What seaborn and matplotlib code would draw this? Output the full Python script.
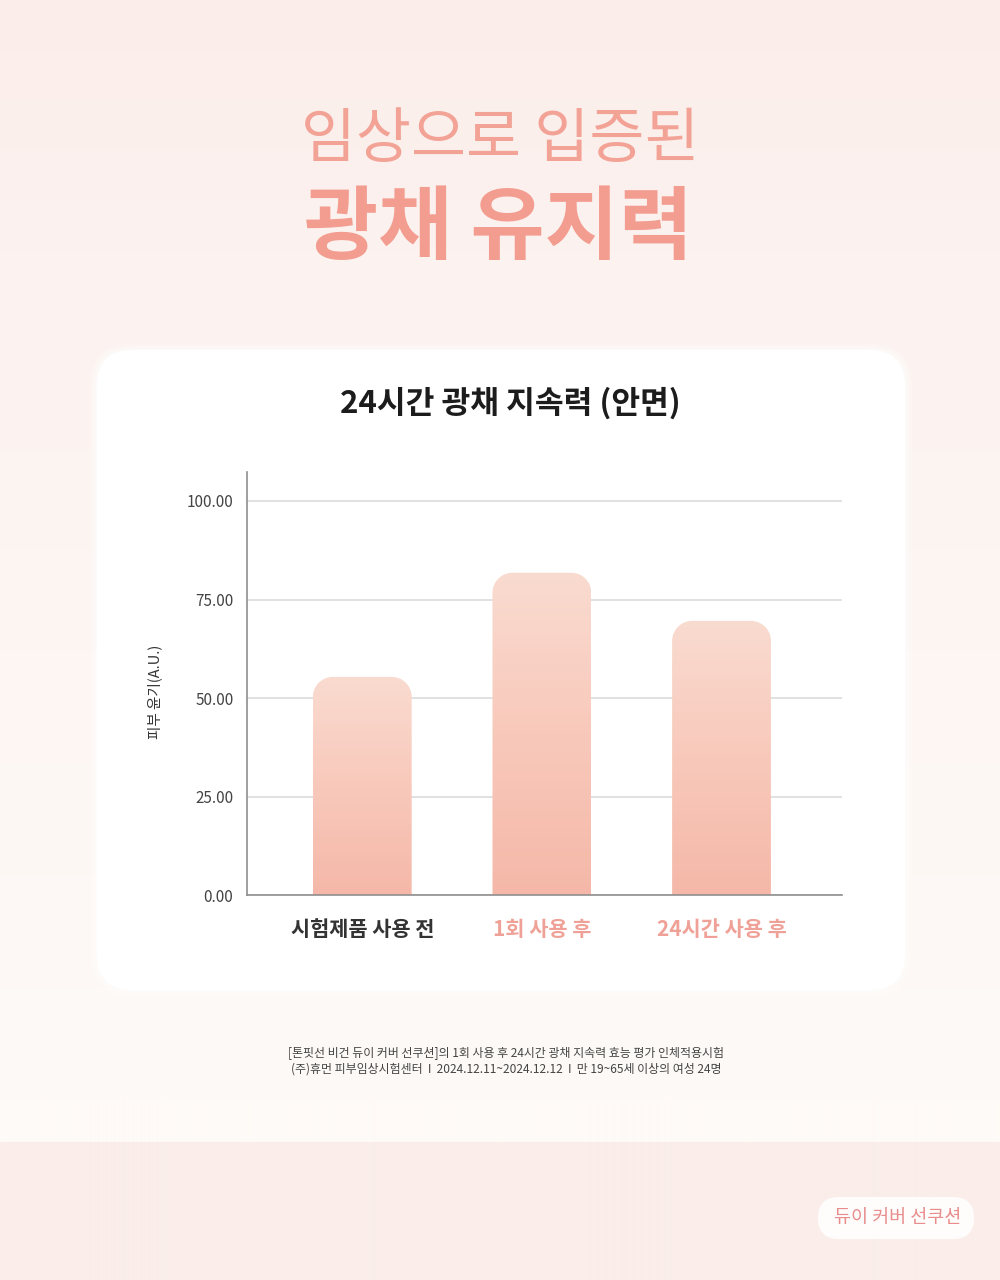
import numpy as np
import pandas as pd
import matplotlib
matplotlib.use('Agg')
import matplotlib.pyplot as plt
import seaborn as sns
from matplotlib.patches import FancyBboxPatch, PathPatch
from matplotlib.path import Path
from matplotlib.colors import LinearSegmentedColormap

# ---------------- data ----------------
categories = ['시험제품 사용 전', '1회 사용 후', '24시간 사용 후']
values = [55.4, 81.8, 69.6]
y_ticks = [0, 25, 50, 75, 100]
y_tick_labels = ['0.00', '25.00', '50.00', '75.00', '100.00']
label_colors = ['#333333', '#f0a197', '#f0a197']
title_line1 = '임상으로 입증된'
title_line2 = '광채 유지력'
chart_title = '24시간 광채 지속력 (안면)'
y_label = '피부 윤기(A.U.)'
footnotes = ['[톤핏선 비건 듀이 커버 선쿠션]의 1회 사용 후 24시간 광채 지속력 효능 평가 인체적용시험',
             '(주)휴먼 피부임상시험센터  I  2024.12.11~2024.12.12  I  만 19~65세 이상의 여성 24명']
badge_text = '듀이 커버 선쿠션'

# ---------------- style ----------------
sns.set_theme(style='white')
plt.rcParams['font.family'] = ['Noto Sans CJK KR', 'DejaVu Sans']

W, H = 1000, 1280
fig = plt.figure(figsize=(10, 12.8), dpi=100)

# background layer in pixel coordinates
bg = fig.add_axes([0, 0, 1, 1], zorder=0)
bg.set_xlim(0, W)
bg.set_ylim(H, 0)
bg.axis('off')

rows = np.arange(H)
stop_y = [0, 250, 650, 1100, 1141, 1142, 1280]
stop_c = np.array([[251, 237, 234], [252, 242, 239], [253, 246, 243],
                   [254, 250, 247], [254, 250, 247], [250, 237, 234], [250, 238, 235]]) / 255.0
img = np.stack([np.interp(rows, stop_y, stop_c[:, i]) for i in range(3)], axis=1)
img = np.repeat(img[:, None, :], 4, axis=1)
bg.imshow(img, extent=(0, W, H, 0), aspect='auto', interpolation='bilinear', zorder=0)

# card with soft glow
for i, a in enumerate([0.2, 0.3, 0.45]):
    g = 7 - i * 3
    bg.add_patch(FancyBboxPatch((97 - g, 350 - g), 808 + 2 * g, 640 + 2 * g,
                                boxstyle=f'round,pad=0,rounding_size={36 + g}',
                                fc='white', ec='none', alpha=a, zorder=1))
bg.add_patch(FancyBboxPatch((97, 350), 808, 640, boxstyle='round,pad=0,rounding_size=36',
                            fc='white', ec='none', zorder=1))

# badge
bg.add_patch(FancyBboxPatch((818, 1197), 156, 42, boxstyle='round,pad=0,rounding_size=21',
                            fc='white', ec='none', alpha=0.9, zorder=1))
bg.text(898, 1218, badge_text, ha='center', va='center', fontsize=13.3, color='#e88c8c', zorder=2)

# titles
bg.text(500, 141, title_line1, ha='center', va='center', fontsize=43, fontweight='medium',
        color='#f3a296', zorder=2)
bg.text(498, 229, title_line2, ha='center', va='center', fontsize=58, fontweight='black',
        color='#f39d90', zorder=2)
bg.text(510, 403, chart_title, ha='center', va='center', fontsize=22.5, fontweight='bold',
        color='#1c1c1c', zorder=2)
bg.text(155, 692, y_label, ha='center', va='center', rotation=90, fontsize=10.5,
        color='#333333', zorder=2)
bg.text(506, 1053, footnotes[0], ha='center', va='center', fontsize=8.6, color='#444444', zorder=2)
bg.text(506, 1069, footnotes[1], ha='center', va='center', fontsize=8.6, color='#444444', zorder=2)

# ---------------- chart ----------------
ax = fig.add_axes([0.2473, 0.3005, 0.5944, 0.3309], zorder=2)
ax.patch.set_alpha(0)
df = pd.DataFrame({'stage': categories, 'value': values})
sns.barplot(data=df, x='stage', y='value', width=0.55, color='#f7c4b6', errorbar=None, ax=ax)

xlim = (-0.640, 2.669)
ylim = (0, 107.4)
px_x = 594.4 / (xlim[1] - xlim[0])
px_y = 423.6 / (ylim[1] - ylim[0])
r = 20
rx, ry = r / px_x, r / px_y
k = 0.5523

cmap = LinearSegmentedColormap.from_list('barg', ['#f5b8a8', '#f8c9bb', '#fadbd0'])
grad = np.linspace(0, 1, 256).reshape(-1, 1)
for p in list(ax.patches):
    x0 = p.get_x()
    w = p.get_width()
    h = p.get_height()
    x1 = x0 + w
    p.set_visible(False)
    verts = [(x0, 0), (x0, h - ry),
             (x0, h - ry + k * ry), (x0 + rx - k * rx, h), (x0 + rx, h),
             (x1 - rx, h),
             (x1 - rx + k * rx, h), (x1, h - ry + k * ry), (x1, h - ry),
             (x1, 0), (x0, 0)]
    codes = [Path.MOVETO, Path.LINETO,
             Path.CURVE4, Path.CURVE4, Path.CURVE4,
             Path.LINETO,
             Path.CURVE4, Path.CURVE4, Path.CURVE4,
             Path.LINETO, Path.CLOSEPOLY]
    clip = PathPatch(Path(verts, codes), fc='none', ec='none', transform=ax.transData)
    ax.add_patch(clip)
    im = ax.imshow(grad, extent=[x0, x1, 0, h], origin='lower', cmap=cmap, aspect='auto',
                   interpolation='bilinear', zorder=2)
    im.set_clip_path(clip)

ax.set_xlim(*xlim)
ax.set_ylim(*ylim)
ax.set_aspect('auto')
ax.set_yticks(y_ticks)
ax.set_yticklabels(y_tick_labels, fontsize=11, color='#444444')
ax.set_xticks(range(len(categories)))
ax.set_xticklabels(categories, fontsize=15, fontweight='bold')
for lbl, c in zip(ax.get_xticklabels(), label_colors):
    lbl.set_color(c)
ax.tick_params(axis='y', length=0, pad=10)
ax.tick_params(axis='x', length=0, pad=17)
ax.set_xlabel('')
ax.set_ylabel('')
ax.yaxis.grid(True, color='#dcdcdc', linewidth=1.2)
ax.xaxis.grid(False)
ax.set_axisbelow(True)
for s in ['top', 'right']:
    ax.spines[s].set_visible(False)
for s in ['left', 'bottom']:
    ax.spines[s].set_color('#8f8f8f')
    ax.spines[s].set_linewidth(1.2)

fig.savefig('out.png', dpi=100)
